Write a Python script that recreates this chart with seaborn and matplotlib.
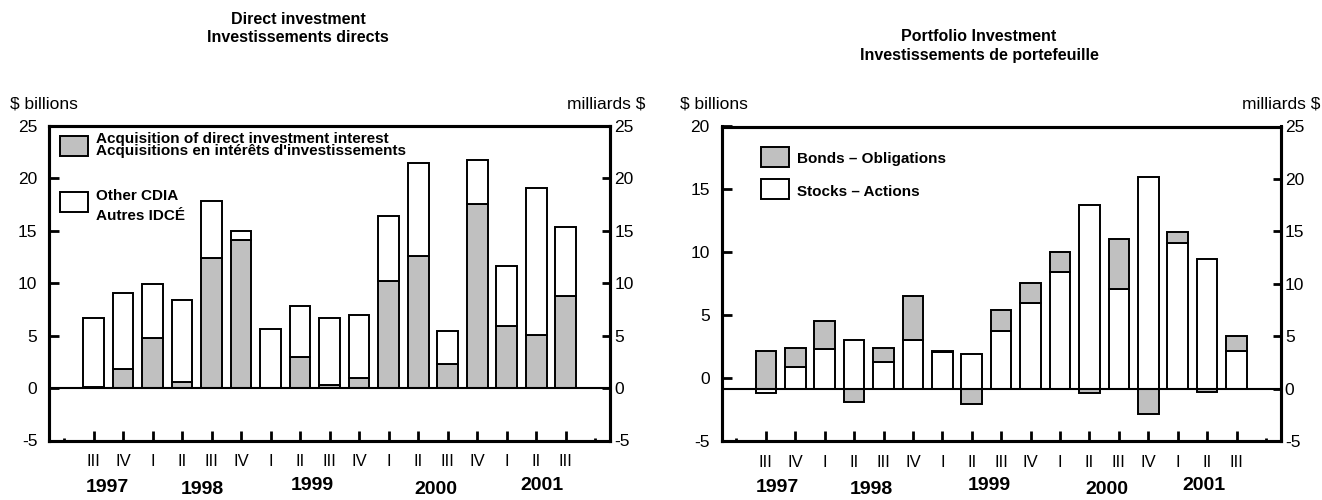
import matplotlib
matplotlib.use("Agg")
import matplotlib.pyplot as plt
import matplotlib.transforms as mtransforms
from matplotlib.patches import Rectangle
import numpy as np
import pandas as pd
import seaborn as sns

# quarters shown on both charts
quarters = ['1997 III', '1997 IV', '1998 I', '1998 II', '1998 III', '1998 IV',
            '1999 I', '1999 II', '1999 III', '1999 IV', '2000 I', '2000 II',
            '2000 III', '2000 IV', '2001 I', '2001 II', '2001 III']
quarter_labels = ['III', 'IV', 'I', 'II', 'III', 'IV', 'I', 'II', 'III', 'IV',
                  'I', 'II', 'III', 'IV', 'I', 'II', 'III']
years = ['1997', '1998', '1999', '2000', '2001']

# Direct investment, $ billions
acquisition = [0.1, 1.8, 4.8, 0.6, 12.4, 14.1, 0.0, 3.0, 0.3, 1.0, 10.2, 12.6,
               2.3, 17.6, 5.9, 5.1, 8.8]
other_cdia = [6.6, 7.3, 5.1, 7.8, 5.4, 0.85, 5.6, 4.8, 6.4, 6.0, 6.2, 8.9,
              3.1, 4.2, 5.7, 14.0, 6.6]

# Portfolio investment, $ billions
stocks = [-0.4, 2.1, 3.8, 4.6, 2.5, 4.6, 3.5, 3.3, 5.5, 8.2, 11.1, 17.5,
          9.5, 20.2, 13.9, 12.4, 3.6]
bonds = [3.6, 1.8, 2.6, -1.3, 1.4, 4.2, 0.1, -1.5, 2.0, 1.9, 1.9, -0.4,
         4.8, -2.4, 1.0, -0.3, 1.4]

GRAY = '#c0c0c0'
W, H = 1322, 500

sns.set_style('white')
plt.rcParams['font.family'] = ['Liberation Sans', 'DejaVu Sans']
plt.rcParams['axes.unicode_minus'] = False
for key in ('text.color', 'axes.labelcolor', 'xtick.color', 'ytick.color',
            'axes.edgecolor'):
    plt.rcParams[key] = 'black'


def fx(px):
    return px / W


def fy(py):
    return 1 - py / H


fig = plt.figure(figsize=(W / 100, H / 100), dpi=100)
ax1 = fig.add_axes([fx(49.3), fy(440.5), (610 - 49.3) / W, 314.5 / H])
ax2 = fig.add_axes([fx(721.7), fy(441), (1280.7 - 721.7) / W, 314.5 / H])

bar_kw = dict(order=quarters, saturation=1, edgecolor='black', linewidth=1.4,
              width=0.7, errorbar=None)

# left: direct investment (gray at bottom, white on top)
direct = pd.DataFrame({'quarter': quarters, 'acq': acquisition, 'other': other_cdia})
sns.barplot(data=direct, x='quarter', y='acq', color=GRAY, ax=ax1, **bar_kw)
sns.barplot(data=direct, x='quarter', y='other', color='white',
            bottom=direct['acq'].to_numpy(), ax=ax1, **bar_kw)

# right: portfolio investment (white stocks, gray bonds stacked when same sign)
port = pd.DataFrame({'quarter': quarters, 'stocks': stocks, 'bonds': bonds})
bond_base = np.where(np.sign(port['stocks']) == np.sign(port['bonds']),
                     port['stocks'], 0.0)
sns.barplot(data=port, x='quarter', y='stocks', color='white', ax=ax2, **bar_kw)
sns.barplot(data=port, x='quarter', y='bonds', color=GRAY, bottom=bond_base,
            ax=ax2, **bar_kw)

n = len(quarters)
q1_pos = [i for i, q in enumerate(quarter_labels) if q == 'I']

for ax in (ax1, ax2):
    ax.set_xlabel('')
    ax.set_ylabel('')
    ax.set_xlim(-1.5, n + 0.5)
    ax.set_ylim(-5, 25)
    ax.axhline(0, color='black', lw=1.5)
    for s in ax.spines.values():
        s.set_linewidth(2.2)
        s.set_color('black')
    ax.set_xticks(range(n), labels=quarter_labels)
    ax.set_xticks(q1_pos, minor=True)
    ax.tick_params(axis='x', which='major', direction='in', length=7.2, width=2,
                   pad=10, labelsize=12, bottom=True)
    ax.tick_params(axis='x', which='minor', direction='in', length=14.4, width=2,
                   bottom=True)
    sec = ax.secondary_xaxis('bottom')
    sec.set_xticks([-1, n])
    sec.tick_params(direction='in', length=2.2, width=2, labelbottom=False)
    sec.spines['bottom'].set_visible(False)

# left chart y axes
ax1.set_yticks(range(-5, 30, 5))
ax1.tick_params(axis='y', direction='in', length=7.2, width=2, pad=8.6,
                labelsize=12.5, left=True)
t1 = ax1.twinx()
t1.set_ylim(-5, 25)
t1.set_yticks(range(-5, 30, 5))
t1.tick_params(axis='y', direction='in', length=5.8, width=2, pad=3,
               labelsize=12.5, right=True)

# right chart: data on right-hand scale, separate left scale
t2 = ax2.twinx()
ax2.yaxis.tick_right()
t2.yaxis.tick_left()
ax2.set_yticks(range(-5, 30, 5))
ax2.tick_params(axis='y', direction='in', length=5.8, width=2, pad=3,
                labelsize=12.5, right=True, labelright=True, left=False, labelleft=False)
t2.set_ylim(-5, 20)
t2.set_yticks(range(-5, 25, 5))
t2.tick_params(axis='y', direction='in', length=7.2, width=2, pad=8.6,
               labelsize=12.5, left=True, labelleft=True, right=False, labelright=False)

for t in (t1, t2):
    for s in t.spines.values():
        s.set_linewidth(2.2)
        s.set_color('black')

# year labels under the quarters
year_x = {ax1: [0.47, 3.7, 7.4, 11.6, 15.2], ax2: [0.4, 3.6, 7.6, 11.6, 14.9]}
year_y = [487, 490, 486, 490, 486]
for ax in (ax1, ax2):
    trans = mtransforms.blended_transform_factory(ax.transData, fig.transFigure)
    for yr, xp, yp in zip(years, year_x[ax], year_y):
        ax.text(xp, fy(yp), yr, transform=trans, ha='center', va='center',
                fontsize=14, fontweight='bold')

# titles and unit labels
fig.text(fx(298), fy(24), 'Direct investment', ha='center', va='baseline',
         fontsize=11.5, fontweight='bold')
fig.text(fx(298), fy(42), 'Investissements directs', ha='center', va='baseline',
         fontsize=11.5, fontweight='bold')
fig.text(fx(979), fy(41), 'Portfolio Investment', ha='center', va='baseline',
         fontsize=11.5, fontweight='bold')
fig.text(fx(979), fy(60), 'Investissements de portefeuille', ha='center',
         va='baseline', fontsize=11.5, fontweight='bold')
for x0, x1 in ((10, 645), (680, 1320)):
    fig.text(fx(x0), fy(108), '$ billions', ha='left', va='baseline', fontsize=12.5)
    fig.text(fx(x1), fy(108), 'milliards $', ha='right', va='baseline', fontsize=12.5)


# legends
def legend_box(x, y, w, h, color):
    fig.patches.append(Rectangle((fx(x), fy(y + h)), w / W, h / H, facecolor=color,
                                 edgecolor='black', linewidth=1.4,
                                 transform=fig.transFigure, figure=fig))


legend_box(60, 136, 28, 20, GRAY)
legend_box(60, 192, 28, 20, 'white')
legend_box(761, 147, 28, 20, GRAY)
legend_box(761, 179, 28, 20, 'white')
lkw = dict(ha='left', va='baseline', fontsize=11, fontweight='bold')
fig.text(fx(96), fy(143.5), 'Acquisition of direct investment interest', **lkw)
fig.text(fx(96), fy(155), "Acquisitions en intérêts d'investissements", **lkw)
fig.text(fx(96), fy(199.5), 'Other CDIA', **lkw)
fig.text(fx(96), fy(220), 'Autres IDCÉ', **lkw)
fig.text(fx(797), fy(163.5), 'Bonds – Obligations', **lkw)
fig.text(fx(797), fy(196), 'Stocks – Actions', **lkw)

fig.savefig('out.png', dpi=100)
